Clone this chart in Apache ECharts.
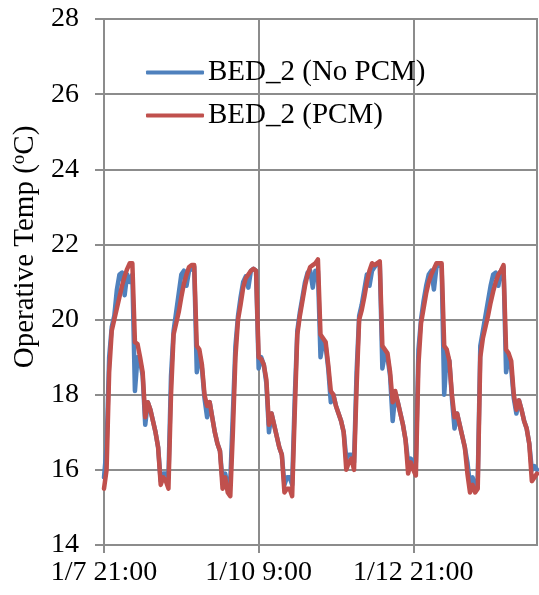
<!DOCTYPE html>
<html>
<head>
<meta charset="utf-8">
<script src="https://cdn.jsdelivr.net/npm/echarts@6/dist/echarts.min.js"></script>
<style>
  html, body { margin: 0; padding: 0; background: #fff; }
  #chart { width: 539px; height: 595px; }
</style>
</head>
<body>
<div id="chart"></div>
<script>
// Hourly operative temperature, starting 1/7 21:00 (hour 0) for 7 days.
const startDay = 7;
const startHour = 21;
const xTickLabels = ['1/7 21:00', '1/10 9:00', '1/12 21:00'];
const yTicks = [14, 16, 18, 20, 22, 24, 26, 28];
const seriesNames = ['BED_2 (No PCM)', 'BED_2 (PCM)'];

const noPcm = [
  15.8, 16.6, 19.0, 19.8, 20.1, 20.8, 21.2, 21.25, 20.65, 21.2, 21.0, 21.2, 18.1, 19.0, 18.9, 18.5, 17.2, 17.8, 17.6, 17.3, 17.0, 16.6, 15.7, 15.9,
  15.9, 15.8, 18.5, 19.7, 20.2, 20.7, 21.2, 21.3, 20.9, 21.3, 21.35, 21.4, 18.6, 19.1, 18.7, 17.9, 17.4, 17.8, 17.4, 17.0, 16.7, 16.5, 15.7, 15.9,
  15.6, 15.7, 17.5, 19.3, 20.1, 20.6, 21.0, 21.15, 20.85, 21.3, 21.35, 21.3, 18.7, 19.0, 18.8, 18.3, 17.0, 17.5, 17.2, 16.9, 16.6, 16.4, 15.6, 15.8,
  15.8, 15.6, 17.9, 19.7, 20.2, 20.6, 21.0, 21.25, 21.3, 20.85, 21.3, 21.3, 19.0, 19.4, 19.3, 18.7, 17.8, 18.0, 17.7, 17.5, 17.3, 17.0, 16.3, 16.4,
  16.4, 16.2, 18.6, 20.1, 20.4, 20.8, 21.2, 20.9, 21.3, 21.4, 21.5, 21.5, 18.7, 19.1, 19.0, 18.5, 17.3, 18.0, 17.8, 17.5, 17.2, 16.8, 16.2, 16.3,
  16.2, 16.2, 19.2, 20.0, 20.5, 20.9, 21.2, 21.3, 20.8, 21.4, 21.45, 21.4, 18.0, 19.1, 18.9, 17.9, 17.1, 17.5, 17.2, 16.9, 16.6, 16.2, 15.6, 15.8,
  15.6, 15.7, 19.3, 19.7, 20.1, 20.5, 20.9, 21.2, 21.25, 20.9, 21.3, 21.4, 18.6, 19.0, 18.7, 17.9, 17.5, 17.85, 17.6, 17.3, 17.1, 16.7, 16.0, 16.1,
  16.0
];

const withPcm = [
  15.5, 16.0, 18.6, 19.7, 20.0, 20.3, 20.6, 20.9, 21.15, 21.35, 21.5, 21.5, 19.4, 19.35, 19.0, 18.6, 17.4, 17.8, 17.6, 17.3, 17.0, 16.6, 15.6, 15.8,
  15.7, 15.5, 18.0, 19.6, 19.9, 20.2, 20.6, 20.95, 21.2, 21.4, 21.45, 21.45, 19.3, 19.2, 18.8, 18.0, 17.7, 17.8, 17.4, 17.0, 16.7, 16.5, 15.5, 15.8,
  15.4, 15.3, 17.0, 19.0, 20.0, 20.4, 20.85, 21.1, 21.2, 21.3, 21.35, 21.3, 19.0, 18.95, 18.8, 18.4, 17.2, 17.5, 17.2, 16.9, 16.6, 16.4, 15.4, 15.5,
  15.5, 15.3, 17.5, 19.6, 20.1, 20.5, 20.9, 21.2, 21.4, 21.45, 21.5, 21.6, 19.6, 19.5, 19.4, 18.8, 18.1, 18.0, 17.7, 17.5, 17.3, 17.0, 16.0, 16.2,
  16.3, 16.0, 18.2, 20.0, 20.25, 20.6, 21.0, 21.3, 21.5, 21.45, 21.5, 21.55, 19.3, 19.2, 19.1, 18.6, 17.8, 18.1, 17.8, 17.5, 17.2, 16.8, 15.9, 16.2,
  16.0, 15.85, 18.8, 19.9, 20.3, 20.7, 21.0, 21.2, 21.35, 21.5, 21.5, 21.5, 19.3, 19.2, 18.9, 18.0, 17.4, 17.5, 17.2, 16.9, 16.6, 15.9, 15.4, 15.6,
  15.4, 15.5, 19.0, 19.5, 19.8, 20.1, 20.45, 20.75, 21.0, 21.2, 21.3, 21.45, 19.2, 19.1, 18.9, 18.0, 17.6, 17.85, 17.6, 17.3, 17.1, 16.7, 15.7, 15.8,
  15.9
];

const FONT = "'Liberation Serif', 'Times New Roman', serif";
const GRID_GRAY = '#8c8c8c';

function toPairs(values) {
  return values.map((v, h) => [h, v]);
}

function hourLabel(h) {
  const total = startHour + h;
  const day = startDay + Math.floor(total / 24);
  const hr = total % 24;
  return '1/' + day + ' ' + hr + ':00';
}

const chart = echarts.init(document.getElementById('chart'), null, { renderer: 'canvas' });

chart.setOption({
  backgroundColor: '#ffffff',
  animation: false,
  grid: {
    left: 104, right: 2, top: 19, bottom: 50,
    show: true, borderColor: GRID_GRAY, borderWidth: 2, backgroundColor: 'transparent'
  },
  legend: {
    orient: 'vertical',
    left: 146,
    top: 58,
    padding: 0,
    itemWidth: 58,
    itemHeight: 4,
    itemGap: 14,
    icon: 'roundRect',
    textStyle: { fontFamily: FONT, fontSize: 29, color: '#000', padding: [0, 0, 0, -1] },
    data: seriesNames
  },
  xAxis: {
    type: 'value',
    min: 0,
    max: noPcm.length - 1,
    interval: 60,
    axisLine: { show: true, lineStyle: { color: GRID_GRAY, width: 2 } },
    axisTick: { show: true, length: 8, lineStyle: { color: GRID_GRAY, width: 2 }, customValues: [0, 60, 120] },
    splitLine: { show: true, lineStyle: { color: GRID_GRAY, width: 2 } },
    axisLabel: {
      customValues: [0, 60, 120],
      formatter: (v) => xTickLabels[Math.round(v / 60)] || hourLabel(v),
      fontFamily: FONT, fontSize: 28, color: '#000', margin: 14
    }
  },
  yAxis: {
    type: 'value',
    min: yTicks[0],
    max: yTicks[yTicks.length - 1],
    interval: 2,
    name: '{a|Operative Temp (}{s|o}{a|C)}',
    nameLocation: 'middle',
    nameGap: 60,
    nameTextStyle: {
      padding: [0, 0, 0, 70],
      rich: {
        a: { fontFamily: FONT, fontSize: 29, color: '#000', lineHeight: 32 },
        s: { fontFamily: FONT, fontSize: 19, color: '#000', lineHeight: 32, verticalAlign: 'top', padding: [0, 0, 9, 0] }
      }
    },
    axisLine: { show: true, lineStyle: { color: GRID_GRAY, width: 2 } },
    axisTick: { show: true, length: 9, lineStyle: { color: GRID_GRAY, width: 2 } },
    splitLine: { show: true, lineStyle: { color: GRID_GRAY, width: 2 } },
    axisLabel: { fontFamily: FONT, fontSize: 28, color: '#000', margin: 25 }
  },
  series: [
    {
      name: seriesNames[0],
      type: 'line',
      data: toPairs(noPcm),
      showSymbol: false,
      symbol: 'none',
      color: '#4F81BD',
      lineStyle: { color: '#4F81BD', width: 4.5, join: 'round', cap: 'round' },
      z: 2
    },
    {
      name: seriesNames[1],
      type: 'line',
      data: toPairs(withPcm),
      showSymbol: false,
      symbol: 'none',
      color: '#C0504D',
      lineStyle: { color: '#C0504D', width: 4.5, join: 'round', cap: 'round' },
      z: 3
    }
  ]
});
</script>
</body>
</html>
